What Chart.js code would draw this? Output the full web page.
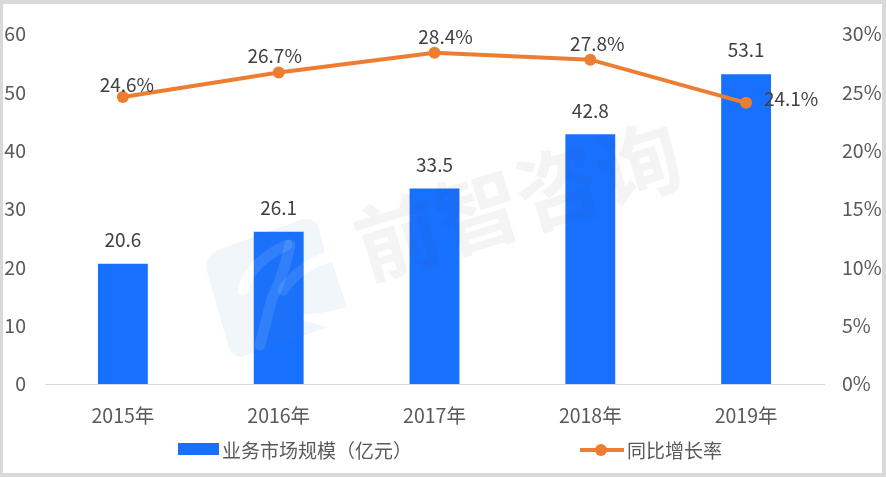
<!DOCTYPE html>
<html>
<head>
<meta charset="utf-8">
<script src="https://cdn.jsdelivr.net/npm/chart.js@4"></script>
<style>
  html, body { margin: 0; padding: 0; background: #fff; }
  #wrap { position: relative; width: 886px; height: 477px; box-sizing: border-box; overflow: hidden; }
  #frame { position: absolute; inset: 0; border: 4px solid #d9d9d9; border-left-width: 3px; pointer-events: none; }
</style>
</head>
<body>
<div id="wrap">
  <canvas id="c" width="886" height="477"></canvas>
  <div id="frame"></div>
</div>
<script>
const years = ['2015年', '2016年', '2017年', '2018年', '2019年'];
const marketSize = [20.6, 26.1, 33.5, 42.8, 53.1];
const growthRate = [24.6, 26.7, 28.4, 27.8, 24.1];
const barName = '业务市场规模（亿元）';
const lineName = '同比增长率';
const watermark = '前智咨询';

const BLUE = '#1870ff';
const ORANGE = '#ed7d31';
const FONT = '"Noto Sans CJK SC", "Noto Sans", sans-serif';

// hand placed rate labels, [dx, dy] from each point
const rateLabelOffset = [[4, -12], [-4, -17], [11, -16], [7, -16], [45, -4]];

// badge part of the watermark, figureAlpha is how strong the runner shows
function drawBadge(ctx, figureAlpha) {
  ctx.fillStyle = 'rgba(70,130,190,0.075)';
  ctx.beginPath();
  ctx.moveTo(221, 249);
  ctx.lineTo(300, 220);
  ctx.quadraticCurveTo(315, 215, 319, 229);
  ctx.lineTo(325, 253);
  ctx.lineTo(332, 262);
  ctx.lineTo(347, 307);
  ctx.quadraticCurveTo(318, 316, 283, 315);
  ctx.lineTo(328, 327);
  ctx.lineTo(245, 356);
  ctx.quadraticCurveTo(232, 360, 228, 345);
  ctx.lineTo(207, 272);
  ctx.quadraticCurveTo(203, 256, 221, 249);
  ctx.closePath();
  ctx.fill();

  ctx.strokeStyle = 'rgba(255,255,255,' + figureAlpha + ')';
  ctx.lineCap = 'round';
  ctx.lineJoin = 'round';
  ctx.lineWidth = 11;
  ctx.beginPath();
  ctx.moveTo(328, 257);
  ctx.quadraticCurveTo(300, 266, 283, 290);
  ctx.stroke();
  ctx.beginPath();
  ctx.moveTo(290, 245);
  ctx.quadraticCurveTo(282, 280, 272, 298);
  ctx.lineTo(260, 345);
  ctx.stroke();
  ctx.beginPath();
  ctx.moveTo(287, 245);
  ctx.quadraticCurveTo(250, 262, 243, 290);
  ctx.stroke();
}

// faint watermark: white figure on the paper, only a slight tint on the bars
const watermarkPlugin = {
  id: 'watermark',
  beforeDatasetsDraw(chart) {
    const ctx = chart.ctx;
    ctx.save();
    drawBadge(ctx, 1);
    ctx.restore();
  },
  afterDatasetsDraw(chart) {
    const ctx = chart.ctx;
    ctx.save();
    ctx.beginPath();
    chart.getDatasetMeta(1).data.forEach(bar => {
      ctx.rect(bar.x - bar.width / 2, bar.y, bar.width, bar.base - bar.y);
    });
    ctx.clip();
    drawBadge(ctx, 0.1);
    ctx.restore();

    ctx.save();
    ctx.translate(518, 200);
    ctx.rotate(-17 * Math.PI / 180);
    ctx.fillStyle = 'rgba(60,60,80,0.06)';
    ctx.font = 'bold 84px ' + FONT;
    ctx.textAlign = 'center';
    ctx.textBaseline = 'middle';
    ctx.fillText(watermark, 0, 0);
    ctx.restore();
  }
};

const labelPlugin = {
  id: 'valueLabels',
  afterDraw(chart) {
    const ctx = chart.ctx;
    ctx.save();
    ctx.font = '19px ' + FONT;
    ctx.fillStyle = '#404040';
    ctx.textAlign = 'center';
    ctx.textBaseline = 'middle';
    chart.getDatasetMeta(1).data.forEach((bar, i) => {
      ctx.fillText(marketSize[i].toFixed(1), bar.x, bar.y - 24);
    });
    chart.getDatasetMeta(0).data.forEach((pt, i) => {
      const [dx, dy] = rateLabelOffset[i];
      ctx.fillText(growthRate[i].toFixed(1) + '%', pt.x + dx, pt.y + dy);
    });
    ctx.restore();
  }
};

// legend has a wide gap the built-in one can't do
const legendPlugin = {
  id: 'bottomLegend',
  afterDraw(chart) {
    const ctx = chart.ctx;
    ctx.save();
    ctx.fillStyle = BLUE;
    ctx.fillRect(178, 443, 41, 12);
    ctx.strokeStyle = ORANGE;
    ctx.lineWidth = 4;
    ctx.beginPath();
    ctx.moveTo(580, 450);
    ctx.lineTo(624, 450);
    ctx.stroke();
    ctx.fillStyle = ORANGE;
    ctx.beginPath();
    ctx.arc(601, 450, 6, 0, Math.PI * 2);
    ctx.fill();
    ctx.font = '19px ' + FONT;
    ctx.fillStyle = '#595959';
    ctx.textBaseline = 'middle';
    ctx.fillText(barName, 222, 451);
    ctx.fillText(lineName, 627, 451);
    ctx.restore();
  }
};

new Chart(document.getElementById('c').getContext('2d'), {
  type: 'bar',
  data: {
    labels: years,
    datasets: [
      {
        type: 'line',
        label: lineName,
        data: growthRate,
        yAxisID: 'y2',
        borderColor: ORANGE,
        backgroundColor: ORANGE,
        borderWidth: 4,
        pointRadius: 6,
        pointBackgroundColor: ORANGE,
        pointBorderColor: ORANGE,
        pointBorderWidth: 0,
        tension: 0,
        order: 0
      },
      {
        label: barName,
        data: marketSize,
        yAxisID: 'y',
        backgroundColor: BLUE,
        barPercentage: 0.32,
        categoryPercentage: 1,
        order: 1
      }
    ]
  },
  options: {
    responsive: false,
    animation: false,
    devicePixelRatio: 1,
    layout: { padding: { top: 34, left: 0, right: 0, bottom: 0 } },
    plugins: { legend: { display: false }, tooltip: { enabled: false } },
    scales: {
      x: {
        grid: { display: false, drawTicks: false },
        border: { color: '#d9d9d9', width: 1 },
        ticks: { color: '#595959', font: { size: 19.5, family: FONT }, padding: 20, maxRotation: 0 },
        afterFit(s) { s.height = 93; }
      },
      y: {
        position: 'left',
        min: 0,
        max: 60,
        grid: { display: false, drawTicks: false },
        border: { display: false },
        ticks: { stepSize: 10, color: '#595959', font: { size: 19.5, family: FONT }, padding: 19 },
        afterFit(s) { s.width = 45; }
      },
      y2: {
        position: 'right',
        min: 0,
        max: 30,
        grid: { display: false, drawTicks: false },
        border: { display: false },
        ticks: { stepSize: 5, color: '#595959', font: { size: 19.5, family: FONT }, padding: 18, callback: v => v + '%' },
        afterFit(s) { s.width = 62; }
      }
    }
  },
  plugins: [watermarkPlugin, labelPlugin, legendPlugin]
});
</script>
</body>
</html>
